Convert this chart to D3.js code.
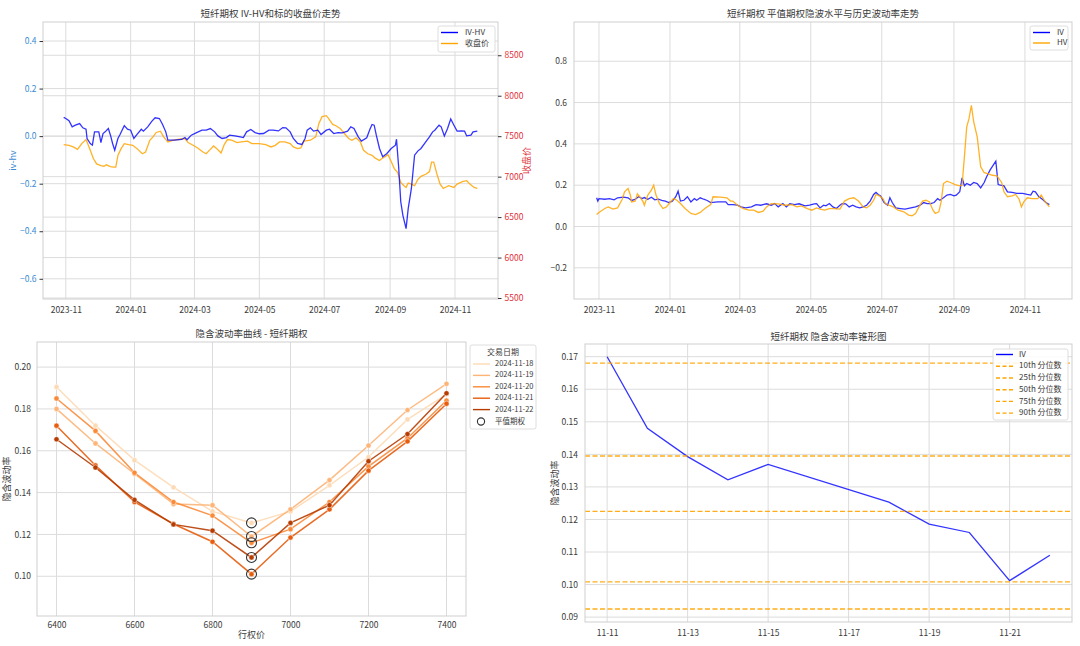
<!DOCTYPE html>
<html><head><meta charset="utf-8">
<script src="https://cdn.jsdelivr.net/npm/d3@7"></script>
<style>
body{margin:0;background:#fff;}
svg{display:block;font-family:"Noto Sans CJK SC","Noto Sans",sans-serif;}
</style></head><body><svg id="c" width="1080" height="646"></svg>
<script>
// ---------------- DATA ----------------
const ivhvSeries = [["2023-10-30",0.079],["2023-11-01",0.074],["2023-11-04",0.065],["2023-11-07",0.039],["2023-11-10",0.046],["2023-11-14",0.053],["2023-11-17",0.035],["2023-11-20",0.029],["2023-11-21",-0.010],["2023-11-24",-0.031],["2023-11-26",-0.038],["2023-11-28",0.018],["2023-12-02",0.018],["2023-12-03",-0.003],["2023-12-04",-0.027],["2023-12-06",0.011],["2023-12-08",0.018],["2023-12-11",0.032],["2023-12-13",0.004],["2023-12-15",-0.031],["2023-12-17",-0.059],["2023-12-20",-0.010],["2023-12-22",0.007],["2023-12-26",0.044],["2023-12-29",0.029],["2024-01-01",0.025],["2024-01-04",-0.010],["2024-01-07",0.007],["2024-01-11",0.029],["2024-01-13",0.021],["2024-01-17",0.039],["2024-01-21",0.063],["2024-01-24",0.077],["2024-01-28",0.074],["2024-01-31",0.049],["2024-02-03",0.018],["2024-02-05",-0.017],["2024-02-11",-0.017],["2024-02-18",-0.014],["2024-02-21",-0.006],["2024-02-23",-0.015],["2024-02-27",0.004],["2024-03-03",0.015],["2024-03-08",0.025],["2024-03-12",0.025],["2024-03-16",0.032],["2024-03-20",0.018],["2024-03-23",0.001],["2024-03-27",-0.010],["2024-03-31",-0.006],["2024-04-03",0.004],["2024-04-08",0.001],["2024-04-13",-0.003],["2024-04-16",-0.006],["2024-04-19",0.018],["2024-04-23",0.028],["2024-04-27",0.015],["2024-05-01",0.010],["2024-05-05",0.011],["2024-05-10",0.025],["2024-05-14",0.025],["2024-05-19",0.022],["2024-05-23",0.036],["2024-05-26",0.035],["2024-05-30",0.018],["2024-06-02",-0.010],["2024-06-06",-0.031],["2024-06-10",-0.035],["2024-06-13",-0.010],["2024-06-15",0.025],["2024-06-18",0.035],["2024-06-21",0.021],["2024-06-25",0.025],["2024-06-28",0.007],["2024-07-03",0.025],["2024-07-06",0.029],["2024-07-10",0.011],["2024-07-14",0.015],["2024-07-18",0.014],["2024-07-23",0.021],["2024-07-26",0.039],["2024-07-29",0.032],["2024-08-02",-0.003],["2024-08-05",-0.021],["2024-08-10",-0.007],["2024-08-13",0.029],["2024-08-15",0.049],["2024-08-17",0.046],["2024-08-19",0.004],["2024-08-22",-0.052],["2024-08-25",-0.087],["2024-08-29",-0.073],["2024-09-02",-0.052],["2024-09-06",-0.038],["2024-09-07",-0.013],["2024-09-09",-0.129],["2024-09-11",-0.276],["2024-09-13",-0.333],["2024-09-16",-0.389],["2024-09-18",-0.305],["2024-09-21",-0.220],["2024-09-24",-0.080],["2024-09-27",-0.063],["2024-09-30",-0.052],["2024-10-04",-0.027],["2024-10-08",-0.003],["2024-10-11",0.018],["2024-10-13",0.025],["2024-10-17",0.046],["2024-10-19",0.039],["2024-10-22",0.001],["2024-10-25",0.032],["2024-10-28",0.072],["2024-10-31",0.046],["2024-11-03",0.021],["2024-11-07",0.022],["2024-11-10",0.021],["2024-11-12",0.001],["2024-11-16",0.004],["2024-11-18",0.018],["2024-11-22",0.021]];

const closeSeries = [["2023-10-30",7396],["2023-11-04",7387],["2023-11-08",7367],["2023-11-12",7337],["2023-11-16",7408],["2023-11-20",7458],["2023-11-21",7429],["2023-11-24",7325],["2023-11-27",7221],["2023-11-30",7158],["2023-12-04",7137],["2023-12-07",7129],["2023-12-09",7146],["2023-12-13",7125],["2023-12-16",7117],["2023-12-18",7117],["2023-12-20",7262],["2023-12-23",7346],["2023-12-26",7408],["2023-12-30",7396],["2024-01-03",7387],["2024-01-07",7346],["2024-01-12",7283],["2024-01-15",7304],["2024-01-19",7450],["2024-01-22",7492],["2024-01-25",7546],["2024-01-29",7562],["2024-02-01",7492],["2024-02-05",7429],["2024-02-10",7450],["2024-02-16",7462],["2024-02-21",7471],["2024-02-24",7421],["2024-03-01",7379],["2024-03-04",7354],["2024-03-09",7304],["2024-03-12",7283],["2024-03-15",7325],["2024-03-19",7379],["2024-03-22",7346],["2024-03-26",7292],["2024-03-29",7396],["2024-04-01",7458],["2024-04-05",7450],["2024-04-10",7421],["2024-04-14",7429],["2024-04-20",7438],["2024-04-24",7408],["2024-05-01",7408],["2024-05-07",7396],["2024-05-12",7367],["2024-05-16",7387],["2024-05-20",7429],["2024-05-25",7429],["2024-05-30",7408],["2024-06-02",7367],["2024-06-06",7346],["2024-06-09",7354],["2024-06-12",7438],["2024-06-18",7450],["2024-06-23",7492],["2024-06-26",7658],["2024-06-29",7742],["2024-07-03",7754],["2024-07-05",7721],["2024-07-09",7646],["2024-07-12",7629],["2024-07-16",7596],["2024-07-20",7533],["2024-07-24",7471],["2024-07-27",7450],["2024-07-31",7479],["2024-08-04",7429],["2024-08-07",7325],["2024-08-11",7283],["2024-08-15",7263],["2024-08-18",7229],["2024-08-22",7200],["2024-08-24",7221],["2024-08-28",7254],["2024-08-30",7271],["2024-09-02",7188],["2024-09-05",7096],["2024-09-08",7054],["2024-09-11",6929],["2024-09-14",6888],["2024-09-16",6867],["2024-09-18",6921],["2024-09-21",6908],["2024-09-24",6888],["2024-09-27",6963],["2024-09-30",7004],["2024-10-05",7033],["2024-10-08",7063],["2024-10-10",7179],["2024-10-12",7179],["2024-10-15",7033],["2024-10-18",6908],["2024-10-21",6854],["2024-10-26",6888],["2024-10-31",6867],["2024-11-03",6908],["2024-11-08",6938],["2024-11-12",6950],["2024-11-15",6908],["2024-11-19",6867],["2024-11-22",6854]];

const ivSeries = [["2023-10-30",0.139],["2023-10-31",0.123],["2023-11-01",0.135],["2023-11-06",0.132],["2023-11-10",0.135],["2023-11-14",0.129],["2023-11-17",0.139],["2023-11-22",0.142],["2023-11-26",0.139],["2023-11-29",0.126],["2023-12-02",0.131],["2023-12-05",0.144],["2023-12-08",0.135],["2023-12-10",0.140],["2023-12-13",0.132],["2023-12-16",0.142],["2023-12-19",0.129],["2023-12-22",0.132],["2023-12-25",0.127],["2023-12-28",0.123],["2023-12-31",0.116],["2024-01-03",0.123],["2024-01-06",0.144],["2024-01-08",0.171],["2024-01-10",0.123],["2024-01-13",0.127],["2024-01-16",0.144],["2024-01-19",0.119],["2024-01-22",0.135],["2024-01-24",0.127],["2024-01-27",0.139],["2024-01-30",0.132],["2024-02-02",0.126],["2024-02-05",0.116],["2024-02-11",0.119],["2024-02-18",0.119],["2024-02-20",0.106],["2024-02-24",0.106],["2024-02-28",0.103],["2024-03-02",0.095],["2024-03-06",0.090],["2024-03-11",0.095],["2024-03-15",0.106],["2024-03-19",0.103],["2024-03-24",0.110],["2024-03-28",0.103],["2024-03-31",0.111],["2024-04-03",0.095],["2024-04-07",0.111],["2024-04-10",0.095],["2024-04-13",0.110],["2024-04-17",0.106],["2024-04-21",0.110],["2024-04-26",0.100],["2024-04-30",0.103],["2024-05-04",0.110],["2024-05-06",0.111],["2024-05-09",0.090],["2024-05-12",0.103],["2024-05-14",0.100],["2024-05-17",0.111],["2024-05-20",0.095],["2024-05-23",0.087],["2024-05-26",0.103],["2024-05-28",0.111],["2024-05-31",0.110],["2024-06-03",0.095],["2024-06-06",0.103],["2024-06-09",0.095],["2024-06-12",0.090],["2024-06-15",0.095],["2024-06-18",0.103],["2024-06-21",0.123],["2024-06-24",0.155],["2024-06-26",0.165],["2024-06-28",0.155],["2024-06-30",0.148],["2024-07-03",0.116],["2024-07-06",0.103],["2024-07-08",0.139],["2024-07-10",0.116],["2024-07-13",0.090],["2024-07-17",0.087],["2024-07-21",0.084],["2024-07-26",0.090],["2024-07-30",0.095],["2024-08-03",0.103],["2024-08-06",0.116],["2024-08-09",0.111],["2024-08-12",0.111],["2024-08-15",0.116],["2024-08-18",0.135],["2024-08-20",0.127],["2024-08-23",0.139],["2024-08-26",0.152],["2024-08-29",0.155],["2024-09-01",0.148],["2024-09-03",0.152],["2024-09-06",0.168],["2024-09-08",0.235],["2024-09-10",0.197],["2024-09-12",0.208],["2024-09-15",0.200],["2024-09-18",0.213],["2024-09-21",0.208],["2024-09-24",0.187],["2024-09-27",0.213],["2024-09-29",0.240],["2024-10-02",0.273],["2024-10-07",0.316],["2024-10-09",0.203],["2024-10-11",0.200],["2024-10-14",0.197],["2024-10-17",0.168],["2024-10-21",0.165],["2024-10-25",0.160],["2024-10-30",0.160],["2024-11-03",0.155],["2024-11-06",0.152],["2024-11-08",0.171],["2024-11-10",0.168],["2024-11-13",0.144],["2024-11-16",0.132],["2024-11-19",0.116],["2024-11-22",0.106]];

const hvSeries = [["2023-10-30",0.058],["2023-11-01",0.068],["2023-11-06",0.087],["2023-11-09",0.095],["2023-11-13",0.084],["2023-11-17",0.090],["2023-11-21",0.132],["2023-11-23",0.168],["2023-11-26",0.184],["2023-11-28",0.152],["2023-11-29",0.119],["2023-12-02",0.123],["2023-12-04",0.158],["2023-12-06",0.144],["2023-12-09",0.119],["2023-12-10",0.103],["2023-12-13",0.152],["2023-12-16",0.176],["2023-12-18",0.200],["2023-12-20",0.152],["2023-12-23",0.111],["2023-12-26",0.087],["2023-12-29",0.095],["2024-01-01",0.116],["2024-01-04",0.135],["2024-01-07",0.127],["2024-01-10",0.111],["2024-01-14",0.087],["2024-01-19",0.063],["2024-01-23",0.058],["2024-01-27",0.068],["2024-01-31",0.087],["2024-02-05",0.106],["2024-02-07",0.144],["2024-02-13",0.142],["2024-02-19",0.139],["2024-02-22",0.123],["2024-02-24",0.123],["2024-02-28",0.103],["2024-03-04",0.087],["2024-03-09",0.079],["2024-03-13",0.079],["2024-03-17",0.068],["2024-03-21",0.074],["2024-03-24",0.095],["2024-03-28",0.111],["2024-04-03",0.110],["2024-04-09",0.103],["2024-04-15",0.106],["2024-04-19",0.095],["2024-04-23",0.100],["2024-04-28",0.087],["2024-05-02",0.079],["2024-05-06",0.090],["2024-05-09",0.084],["2024-05-13",0.079],["2024-05-17",0.087],["2024-05-21",0.087],["2024-05-26",0.084],["2024-05-30",0.123],["2024-06-03",0.135],["2024-06-07",0.139],["2024-06-11",0.123],["2024-06-15",0.095],["2024-06-18",0.090],["2024-06-21",0.103],["2024-06-24",0.127],["2024-06-26",0.155],["2024-06-29",0.148],["2024-07-02",0.135],["2024-07-04",0.111],["2024-07-07",0.103],["2024-07-11",0.095],["2024-07-15",0.079],["2024-07-20",0.071],["2024-07-24",0.055],["2024-07-27",0.052],["2024-07-30",0.063],["2024-08-02",0.095],["2024-08-05",0.123],["2024-08-08",0.127],["2024-08-11",0.119],["2024-08-14",0.079],["2024-08-16",0.063],["2024-08-19",0.071],["2024-08-21",0.119],["2024-08-23",0.208],["2024-08-26",0.219],["2024-08-29",0.213],["2024-09-02",0.203],["2024-09-06",0.197],["2024-09-08",0.200],["2024-09-10",0.337],["2024-09-12",0.482],["2024-09-14",0.523],["2024-09-16",0.587],["2024-09-18",0.506],["2024-09-21",0.434],["2024-09-24",0.289],["2024-09-27",0.261],["2024-09-30",0.256],["2024-10-04",0.248],["2024-10-08",0.245],["2024-10-12",0.213],["2024-10-14",0.168],["2024-10-17",0.144],["2024-10-21",0.148],["2024-10-24",0.155],["2024-10-27",0.132],["2024-10-29",0.095],["2024-10-31",0.119],["2024-11-03",0.139],["2024-11-07",0.135],["2024-11-12",0.135],["2024-11-15",0.152],["2024-11-18",0.123],["2024-11-22",0.095]];

const strikes = [6400,6500,6600,6700,6800,6900,7000,7100,7200,7300,7400];
const smileDates = ["2024-11-18","2024-11-19","2024-11-20","2024-11-21","2024-11-22"];
const smile1118 = [0.1905,0.172,0.1555,0.1425,0.131,0.1255,0.131,0.1435,0.157,0.175,0.187];
const smile1119 = [0.180,0.1635,0.149,0.1345,0.134,0.119,0.132,0.146,0.1625,0.1795,0.192];
const smile1120 = [0.185,0.1695,0.1495,0.1355,0.129,0.116,0.1225,0.1355,0.1525,0.166,0.184];
const smile1121 = [0.172,0.153,0.1355,0.125,0.1165,0.101,0.1185,0.132,0.1505,0.1645,0.1825];
const smile1122 = [0.1655,0.152,0.1365,0.1248,0.1218,0.109,0.1255,0.134,0.155,0.168,0.1875];
const atmStrike = 6900;

const coneDates = ["2024-11-11","2024-11-12","2024-11-13","2024-11-14","2024-11-15","2024-11-18","2024-11-19","2024-11-20","2024-11-21","2024-11-22"];
const coneIV = [0.170,0.148,0.1393,0.1322,0.1369,0.1253,0.1186,0.1160,0.1012,0.109];
const quantileLabels = ["10th 分位数","25th 分位数","50th 分位数","75th 分位数","90th 分位数"];
const quantileValues = [0.0925,0.1008,0.1225,0.1395,0.168];

const monthTicks = ["2023-11-01","2024-01-01","2024-03-01","2024-05-01","2024-07-01","2024-09-01","2024-11-01"];
const tlLeftTicks = [-0.6,-0.4,-0.2,0,0.2,0.4];
const tlRightTicks = [5500,6000,6500,7000,7500,8000,8500];
const trYTicks = [-0.2,0,0.2,0.4,0.6,0.8];
const blXTicks = [6400,6600,6800,7000,7200,7400];
const blYTicks = [0.10,0.12,0.14,0.16,0.18,0.20];
const brYTicks = [0.09,0.10,0.11,0.12,0.13,0.14,0.15,0.16,0.17];
const brXTicks = ["2024-11-11","2024-11-13","2024-11-15","2024-11-17","2024-11-19","2024-11-21"];

// ---------------- HELPERS ----------------
const svg = d3.select("#c");
svg.append("rect").attr("width",1080).attr("height",646).attr("fill","#fff");
const parse = d3.timeParse("%Y-%m-%d");
const GRID = "#dcdcdc", SPINE = "#cfcfcf", TXT = "#3a3a3a";
const TICKF = 8.5;
const mfmt = p => d => (d < -1e-9 ? "\u2212" : "") + Math.abs(d).toFixed(p);
function padTime(ext){ const s = ext[1]-ext[0]; return [new Date(+ext[0]-s*0.05), new Date(+ext[1]+s*0.05)]; }

function gridH(g, ys, x0, x1){ ys.forEach(y => g.append("line").attr("x1",x0).attr("x2",x1).attr("y1",y).attr("y2",y).attr("stroke",GRID).attr("stroke-width",1)); }
function gridV(g, xs, y0, y1){ xs.forEach(x => g.append("line").attr("x1",x).attr("x2",x).attr("y1",y0).attr("y2",y1).attr("stroke",GRID).attr("stroke-width",1)); }
function spines(g,x0,x1,y0,y1){ g.append("rect").attr("x",x0).attr("y",y0).attr("width",x1-x0).attr("height",y1-y0).attr("fill","none").attr("stroke",SPINE).attr("stroke-width",1); }
function styleAxis(sel, color, tickColor){
  sel.select(".domain").remove();
  sel.selectAll("text").attr("fill",color).style("font-size",TICKF+"px").style("font-family",'"Noto Sans CJK SC",sans-serif');
  sel.selectAll("line").attr("stroke",tickColor||"none");
}
function title(txt,x,y){ svg.append("text").attr("x",x).attr("y",y).attr("text-anchor","middle").attr("dominant-baseline","middle").attr("fill",TXT).style("font-size","9.5px").text(txt); }
function vlabel(txt,x,y,color){ svg.append("text").attr("transform",`translate(${x},${y}) rotate(-90)`).attr("text-anchor","middle").attr("dominant-baseline","middle").attr("fill",color).style("font-size","9px").text(txt); }
function legendBox(x,y,w,h){ svg.append("rect").attr("x",x).attr("y",y).attr("width",w).attr("height",h).attr("rx",2).attr("fill","#fff").attr("fill-opacity",0.85).attr("stroke","#d6d6d6").attr("stroke-width",0.8); }
function legendLine(x,y,len,color,dash,txt,tx,fs){
  svg.append("line").attr("x1",x).attr("x2",x+len).attr("y1",y).attr("y2",y).attr("stroke",color).attr("stroke-width",1.4).attr("stroke-dasharray",dash||null);
  svg.append("text").attr("x",tx).attr("y",y).attr("dominant-baseline","middle").attr("fill",TXT).style("font-size",(fs||8)+"px").text(txt);
}

// ---------------- PANEL 1 (top-left) ----------------
{
  const L=43,R=498,T=22,B=299;
  const ivhv = ivhvSeries.map(d=>({d:parse(d[0]),v:d[1]}));
  const close = closeSeries.map(d=>({d:parse(d[0]),v:d[1]}));
  const x = d3.scaleTime().domain(padTime(d3.extent(ivhv,d=>d.d))).range([L,R]);
  const yL = d3.scaleLinear().domain([-0.685,0.48]).range([B,T]);
  const yR = d3.scaleLinear().domain([5488,8911]).range([B,T]);
  const g = svg.append("g");
  const mt = monthTicks.map(parse);
  gridV(g, mt.map(x), T, B);
  gridH(g, tlLeftTicks.map(yL), L, R);
  gridH(g, tlRightTicks.map(yR), L, R);
  const clip = svg.append("clipPath").attr("id","c1").append("rect").attr("x",L).attr("y",T).attr("width",R-L).attr("height",B-T);
  g.append("path").datum(close).attr("clip-path","url(#c1)").attr("fill","none").attr("stroke","#ffa500").attr("stroke-opacity",0.85).attr("stroke-width",1.3)
    .attr("d", d3.line().x(d=>x(d.d)).y(d=>yR(d.v)));
  g.append("path").datum(ivhv).attr("clip-path","url(#c1)").attr("fill","none").attr("stroke","#0000ff").attr("stroke-opacity",0.8).attr("stroke-width",1.3)
    .attr("d", d3.line().x(d=>x(d.d)).y(d=>yL(d.v)));
  spines(g,L,R,T,B);
  const ax1 = g.append("g").attr("transform",`translate(${L},0)`).call(d3.axisLeft(yL).tickValues(tlLeftTicks).tickSize(3.5).tickPadding(3).tickFormat(mfmt(1)));
  styleAxis(ax1,"#3b8bd0","#333");
  const ax2 = g.append("g").attr("transform",`translate(${R},0)`).call(d3.axisRight(yR).tickValues(tlRightTicks).tickSize(3.5).tickPadding(3).tickFormat(d3.format("d")));
  styleAxis(ax2,"#e0303a","#333");
  const ax3 = g.append("g").attr("transform",`translate(0,${B})`).call(d3.axisBottom(x).tickValues(mt).tickSize(0).tickPadding(8).tickFormat(d3.timeFormat("%Y-%m")));
  styleAxis(ax3,TXT);
  title("短纤期权 IV-HV和标的收盘价走势",(L+R)/2,14);
  vlabel("iv-hv",14,(T+B)/2,"#3b8bd0");
  vlabel("收盘价",528,(T+B)/2,"#e0303a");
  legendBox(438,26,57,26);
  legendLine(441,32.5,17,"#0000ff",null,"IV-HV",465);
  legendLine(441,43.5,17,"#ffa500",null,"收盘价",465);
}

// ---------------- PANEL 2 (top-right) ----------------
{
  const L=574,R=1072,T=22,B=299;
  const iv = ivSeries.map(d=>({d:parse(d[0]),v:d[1]}));
  const hv = hvSeries.map(d=>({d:parse(d[0]),v:d[1]}));
  const x = d3.scaleTime().domain(padTime(d3.extent(iv,d=>d.d))).range([L,R]);
  const y = d3.scaleLinear().domain([-0.351,0.990]).range([B,T]);
  const g = svg.append("g");
  const mt = monthTicks.map(parse);
  gridV(g, mt.map(x), T, B);
  gridH(g, trYTicks.map(y), L, R);
  g.append("path").datum(iv).attr("fill","none").attr("stroke","#0000ff").attr("stroke-opacity",0.8).attr("stroke-width",1.3)
    .attr("d", d3.line().x(d=>x(d.d)).y(d=>y(d.v)));
  g.append("path").datum(hv).attr("fill","none").attr("stroke","#ffa500").attr("stroke-opacity",0.85).attr("stroke-width",1.3)
    .attr("d", d3.line().x(d=>x(d.d)).y(d=>y(d.v)));
  spines(g,L,R,T,B);
  const ax1 = g.append("g").attr("transform",`translate(${L},0)`).call(d3.axisLeft(y).tickValues(trYTicks).tickSize(0).tickPadding(7).tickFormat(mfmt(1)));
  styleAxis(ax1,TXT);
  const ax3 = g.append("g").attr("transform",`translate(0,${B})`).call(d3.axisBottom(x).tickValues(mt).tickSize(0).tickPadding(8).tickFormat(d3.timeFormat("%Y-%m")));
  styleAxis(ax3,TXT);
  title("短纤期权 平值期权隐波水平与历史波动率走势",(L+R)/2,14);
  legendBox(1030,26,38,24);
  legendLine(1033,32.5,17,"#0000ff",null,"IV",1057);
  legendLine(1033,43,17,"#ffa500",null,"HV",1057);
}

// ---------------- PANEL 3 (bottom-left) ----------------
{
  const L=37,R=466,T=342,B=616;
  const x = d3.scaleLinear().domain([6350,7450]).range([L,R]);
  const y = d3.scaleLinear().domain([0.081,0.212]).range([B,T]);
  const g = svg.append("g");
  gridV(g, blXTicks.map(x), T, B);
  gridH(g, blYTicks.map(y), L, R);
  const smiles = [smile1118,smile1119,smile1120,smile1121,smile1122];
  const colors = smileDates.map((d,i)=>d3.interpolateOranges((i+1)/6.2+0.03));
  smiles.forEach((s,i)=>{
    const pts = strikes.map((k,j)=>({k:k,v:s[j]}));
    g.append("path").datum(pts).attr("fill","none").attr("stroke",colors[i]).attr("stroke-width",1.5).attr("stroke-opacity",0.9)
      .attr("d", d3.line().x(d=>x(d.k)).y(d=>y(d.v)));
    g.selectAll(null).data(pts).enter().append("circle").attr("cx",d=>x(d.k)).attr("cy",d=>y(d.v)).attr("r",2.6)
      .attr("fill",colors[i]).attr("stroke","#fff").attr("stroke-width",0.5);
  });
  smiles.forEach((s,i)=>{
    const j = strikes.indexOf(atmStrike);
    g.append("circle").attr("cx",x(atmStrike)).attr("cy",y(s[j])).attr("r",5).attr("fill","none").attr("stroke","#333").attr("stroke-width",1.1);
  });
  spines(g,L,R,T,B);
  const ax1 = g.append("g").attr("transform",`translate(${L},0)`).call(d3.axisLeft(y).tickValues(blYTicks).tickSize(0).tickPadding(6).tickFormat(d3.format(".2f")));
  styleAxis(ax1,TXT);
  const ax3 = g.append("g").attr("transform",`translate(0,${B})`).call(d3.axisBottom(x).tickValues(blXTicks).tickSize(0).tickPadding(6).tickFormat(d3.format("d")));
  styleAxis(ax3,TXT);
  title("隐含波动率曲线 - 短纤期权",(L+R)/2,334);
  vlabel("隐含波动率",8,(T+B)/2,TXT);
  svg.append("text").attr("x",(L+R)/2).attr("y",636).attr("text-anchor","middle").attr("dominant-baseline","middle").attr("fill",TXT).style("font-size","9px").text("行权价");
  legendBox(470,345,66,84);
  svg.append("text").attr("x",503).attr("y",352.5).attr("text-anchor","middle").attr("dominant-baseline","middle").attr("fill",TXT).style("font-size","8px").text("交易日期");
  smileDates.forEach((d,i)=>legendLine(473,364+i*11.4,17,colors[i],null,d,495,7.5));
  svg.append("circle").attr("cx",481).attr("cy",421.5).attr("r",3.6).attr("fill","none").attr("stroke","#333").attr("stroke-width",1.1);
  svg.append("text").attr("x",495).attr("y",421.5).attr("dominant-baseline","middle").attr("fill",TXT).style("font-size","7.5px").text("平值期权");
}

// ---------------- PANEL 4 (bottom-right) ----------------
{
  const L=585,R=1072,T=344,B=622;
  const pts = coneDates.map((d,i)=>({d:parse(d),v:coneIV[i]}));
  const ext = d3.extent(pts,d=>d.d);
  const x = d3.scaleTime().domain(padTime(ext)).range([L,R]);
  const y = d3.scaleLinear().domain([0.0885,0.1739]).range([B,T]);
  const g = svg.append("g");
  const xt = brXTicks.map(parse);
  gridV(g, xt.map(x), T, B);
  gridH(g, brYTicks.map(y), L, R);
  g.append("path").datum(pts).attr("fill","none").attr("stroke","#0000ff").attr("stroke-opacity",0.8).attr("stroke-width",1.3)
    .attr("d", d3.line().x(d=>x(d.d)).y(d=>y(d.v)));
  quantileValues.forEach(q=>{
    g.append("line").attr("x1",L).attr("x2",R).attr("y1",y(q)).attr("y2",y(q)).attr("stroke","#ffa500").attr("stroke-width",1.3).attr("stroke-dasharray","5,2.5").attr("stroke-opacity",0.9);
  });
  spines(g,L,R,T,B);
  const ax1 = g.append("g").attr("transform",`translate(${L},0)`).call(d3.axisLeft(y).tickValues(brYTicks).tickSize(0).tickPadding(7).tickFormat(d3.format(".2f")));
  styleAxis(ax1,TXT);
  const ax3 = g.append("g").attr("transform",`translate(0,${B})`).call(d3.axisBottom(x).tickValues(xt).tickSize(0).tickPadding(8).tickFormat(d3.timeFormat("%m-%d")));
  styleAxis(ax3,TXT);
  title("短纤期权 隐含波动率锥形图",(L+R)/2,337);
  vlabel("隐含波动率",556,(T+B)/2,TXT);
  legendBox(993,349,75,71);
  legendLine(996,354.5,17,"#0000ff",null,"IV",1019);
  quantileLabels.forEach((q,i)=>legendLine(996,366.3+i*11.7,17,"#ffa500","4,2.5",q,1019));
}
</script></body></html>
